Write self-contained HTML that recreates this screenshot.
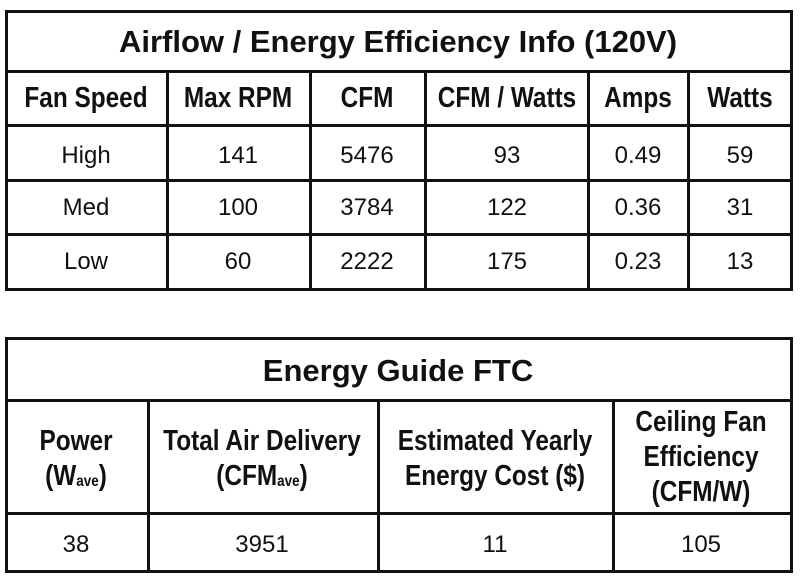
<!DOCTYPE html>
<html><head><style>
body{margin:0;background:#fff;width:800px;height:583px;position:relative;overflow:hidden;font-family:"Liberation Sans",sans-serif;color:#111}
.h{position:absolute;height:3px;background:#111}
.v{position:absolute;width:3px;background:#111}
.t{position:absolute;text-align:center;transform:translateX(-50%);white-space:nowrap;line-height:1}
.b{font-weight:bold;font-size:29px;transform:translateX(-50%) scaleX(0.84)}
.r{font-size:24px}
.ti{font-weight:bold;font-size:31px}
sub{font-size:16px;vertical-align:-1px}
</style></head><body>
<div class="h" style="left:5px;top:10px;width:788px"></div>
<div class="h" style="left:5px;top:70px;width:788px"></div>
<div class="h" style="left:5px;top:124px;width:788px"></div>
<div class="h" style="left:5px;top:179px;width:788px"></div>
<div class="h" style="left:5px;top:233px;width:788px"></div>
<div class="h" style="left:5px;top:288px;width:788px"></div>
<div class="v" style="left:5px;top:10px;height:281px"></div>
<div class="v" style="left:790px;top:10px;height:281px"></div>
<div class="v" style="left:166px;top:70px;height:221px"></div>
<div class="v" style="left:309px;top:70px;height:221px"></div>
<div class="v" style="left:424px;top:70px;height:221px"></div>
<div class="v" style="left:587px;top:70px;height:221px"></div>
<div class="v" style="left:687px;top:70px;height:221px"></div>
<div class="t ti" style="left:398px;top:26px">Airflow / Energy Efficiency Info (120V)</div>
<div class="t b" style="left:86px;top:84px">Fan Speed</div>
<div class="t b" style="left:238px;top:84px">Max RPM</div>
<div class="t b" style="left:367px;top:84px">CFM</div>
<div class="t b" style="left:507px;top:84px">CFM / Watts</div>
<div class="t b" style="left:638px;top:84px">Amps</div>
<div class="t b" style="left:740px;top:84px">Watts</div>
<div class="t r" style="left:86px;top:144px">High</div><div class="t r" style="left:238px;top:144px">141</div><div class="t r" style="left:367px;top:144px">5476</div><div class="t r" style="left:507px;top:144px">93</div><div class="t r" style="left:638px;top:144px">0.49</div><div class="t r" style="left:740px;top:144px">59</div>
<div class="t r" style="left:86px;top:196px">Med</div><div class="t r" style="left:238px;top:196px">100</div><div class="t r" style="left:367px;top:196px">3784</div><div class="t r" style="left:507px;top:196px">122</div><div class="t r" style="left:638px;top:196px">0.36</div><div class="t r" style="left:740px;top:196px">31</div>
<div class="t r" style="left:86px;top:250px">Low</div><div class="t r" style="left:238px;top:250px">60</div><div class="t r" style="left:367px;top:250px">2222</div><div class="t r" style="left:507px;top:250px">175</div><div class="t r" style="left:638px;top:250px">0.23</div><div class="t r" style="left:740px;top:250px">13</div>
<div class="h" style="left:5px;top:337px;width:788px"></div>
<div class="h" style="left:5px;top:399px;width:788px"></div>
<div class="h" style="left:5px;top:512px;width:788px"></div>
<div class="h" style="left:5px;top:570px;width:788px"></div>
<div class="v" style="left:5px;top:337px;height:236px"></div>
<div class="v" style="left:790px;top:337px;height:236px"></div>
<div class="v" style="left:147px;top:399px;height:174px"></div>
<div class="v" style="left:377px;top:399px;height:174px"></div>
<div class="v" style="left:612px;top:399px;height:174px"></div>
<div class="t ti" style="left:398px;top:355px">Energy Guide FTC</div>
<div class="t b" style="left:76px;top:424px;line-height:35px">Power<br>(W<sub>ave</sub>)</div>
<div class="t b" style="left:262px;top:424px;line-height:35px">Total Air Delivery<br>(CFM<sub>ave</sub>)</div>
<div class="t b" style="left:495px;top:424px;line-height:35px">Estimated Yearly<br>Energy Cost ($)</div>
<div class="t b" style="left:701px;top:405px;line-height:35px">Ceiling Fan<br>Efficiency<br>(CFM/W)</div>
<div class="t r" style="left:76px;top:533px">38</div>
<div class="t r" style="left:262px;top:533px">3951</div>
<div class="t r" style="left:495px;top:533px">11</div>
<div class="t r" style="left:701px;top:533px">105</div>
</body></html>
